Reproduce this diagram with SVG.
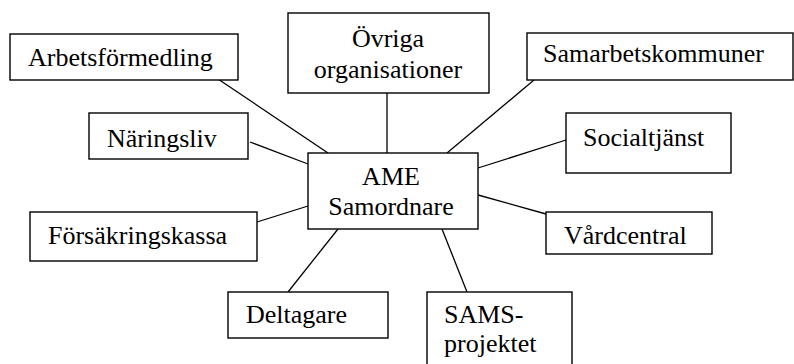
<svg xmlns="http://www.w3.org/2000/svg" width="794" height="364" viewBox="0 0 794 364">
<style>
rect.box{fill:#fff;stroke:#000;stroke-width:1.4}
line{stroke:#000;stroke-width:1.3}
text{font-size:26px;fill:#000}
.c{text-anchor:middle}
</style>
<rect width="794" height="364" fill="#fff"/>
<g id="connectors">
<line x1="218" y1="79" x2="328" y2="153"/>
<line x1="387" y1="93" x2="387" y2="153"/>
<line x1="250" y1="142" x2="308" y2="164"/>
<line x1="534" y1="80" x2="447" y2="153"/>
<line x1="566" y1="140" x2="478" y2="168"/>
<line x1="257" y1="222" x2="308" y2="206"/>
<line x1="288" y1="292" x2="338" y2="229"/>
<line x1="546" y1="214" x2="478" y2="195"/>
<line x1="467" y1="292" x2="442" y2="229"/>
</g>
<g font-family="Liberation Serif, Tinos, DejaVu Serif, serif">
<g id="arbetsformedling"><rect class="box" x="10" y="34" width="228" height="46"/><text x="28" y="66">Arbetsförmedling</text></g>
<g id="ovriga"><rect class="box" x="288" y="13" width="201" height="80"/><text class="c" x="388" y="47">Övriga</text><text class="c" x="388" y="78">organisationer</text></g>
<g id="samarbetskommuner"><rect class="box" x="527" y="33" width="266" height="47"/><text x="543" y="62">Samarbetskommuner</text></g>
<g id="naringsliv"><rect class="box" x="89" y="113" width="159" height="46"/><text x="107" y="147">Näringsliv</text></g>
<g id="socialtjanst"><rect class="box" x="566" y="113" width="165" height="60"/><text x="583" y="146">Socialtjänst</text></g>
<g id="ame"><rect class="box" x="308" y="153" width="170" height="76"/><text class="c" x="391" y="185">AME</text><text class="c" x="391" y="215">Samordnare</text></g>
<g id="forsakringskassa"><rect class="box" x="30" y="212" width="227" height="49"/><text x="48" y="244">Försäkringskassa</text></g>
<g id="vardcentral"><rect class="box" x="546" y="212" width="166" height="42"/><text x="564" y="244">Vårdcentral</text></g>
<g id="deltagare"><rect class="box" x="228" y="292" width="160" height="46"/><text x="246" y="323">Deltagare</text></g>
<g id="sams"><rect class="box" x="427" y="292" width="145" height="80"/><text x="444" y="323">SAMS-</text><text x="444" y="352">projektet</text></g>
</g>
</svg>
